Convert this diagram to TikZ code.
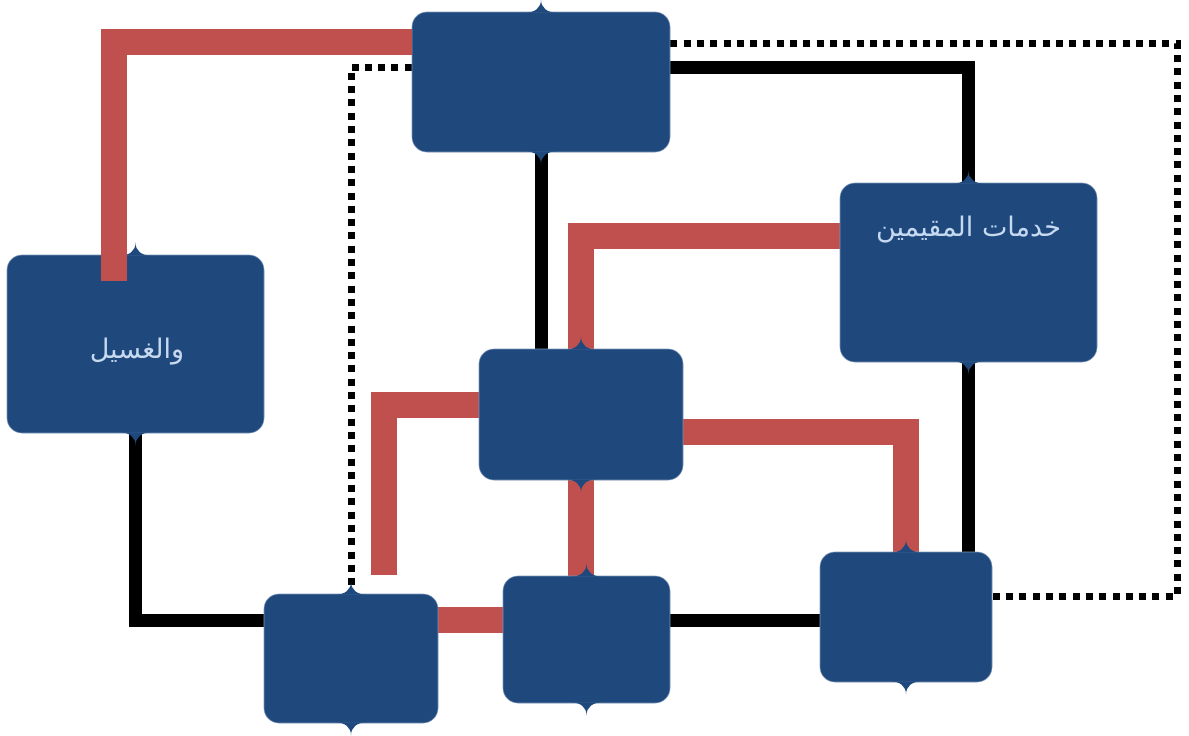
\documentclass[tikz,border=0pt]{standalone}
\usepackage{fontspec}
\newfontfamily\arabicfont[Script=Arabic]{DejaVu Sans}
\TeXXeTstate=1
\usetikzlibrary{backgrounds}
\definecolor{boxblue}{HTML}{1F497D}
\definecolor{boxedge}{HTML}{7F97B8}
\definecolor{boxtext}{HTML}{C6D9F1}
\definecolor{linkred}{HTML}{C0504D}

\begin{document}
\begin{tikzpicture}[x=1pt,y=-1pt,
    box/.style 2 args={rectangle,rounded corners=15pt,fill=boxblue,draw=boxedge,
      line width=0.6pt,minimum width=#1pt,minimum height=#2pt,inner sep=0pt},
    label text/.style={text=boxtext,font=\arabicfont\fontsize{27}{31}\selectfont},
    red link/.style={draw=linkred,line width=26pt},
    black link/.style={draw=black,line width=13pt},
    dot link/.style={draw=black,line width=7pt,dash pattern=on 7pt off 6.3pt},
    cusp/.pic={
      \fill[boxblue]
        (-16,1) .. controls (-6,1) and (0,-4) .. (0,-12)
                .. controls (0,-4) and (6,1) .. (16,1) -- cycle;
    }]
  \useasboundingbox (0,0) rectangle (1189,736);

  \node[box={258}{140}] (1) at (541,82) {};
  \node[box={257}{178}] (2) at (135.5,344) {};
  \node[box={257}{179}] (3) at (968.5,272.5) {};
  \node[box={204}{131}] (4) at (581,414.5) {};
  \node[box={174}{129}] (5) at (351,658.5) {};
  \node[box={167}{127}] (6) at (586.5,639.5) {};
  \node[box={172}{130}] (7) at (906,617) {};

  \node[label text] (2t) at (137,352) {\beginR والغسيل\endR};
  \node[label text,anchor=north] (3t) at (968.5,212) {\beginR خدمات المقيمين\endR};

  \foreach \n in {1,...,7} {
    \pic at (\n.north) {cusp};
    \pic[rotate=180] at (\n.south) {cusp};
  }

  \coordinate (r1) at (114,281);
  \coordinate (r3) at (384,575);

  \begin{scope}[on background layer]
    % dotted loops
    \draw[dot link] (1.east |- 0,43) -| (1177,596) -- (7.east |- 0,596);
    \draw[dot link] (1.west |- 0,67) -| (5.north);
    % black links
    \draw[black link] (1.east |- 0,67) -| (3.north);
    \draw[black link] (1.south) -- (1.south |- 4.north);
    \draw[black link] (2.south) |- (5.west |- 0,620);
    \draw[black link] (6.east |- 0,620) -- (7.west |- 0,620);
    \draw[black link] (3.south) -- (3.south |- 7.north);
    % red links
    \draw[red link] (3.west |- 0,236) -| (4.north);
    \draw[red link] (4.west |- 0,405) -| (r3);
    \draw[red link] (4.east |- 0,432) -| (7.north);
    \draw[red link] (4.south) -- (4.south |- 6.north);
    \draw[red link] (5.east |- 0,620) -- (6.west |- 0,620);
  \end{scope}

  \draw[red link] (r1) |- (1.west |- 0,42);
\end{tikzpicture}
\end{document}
